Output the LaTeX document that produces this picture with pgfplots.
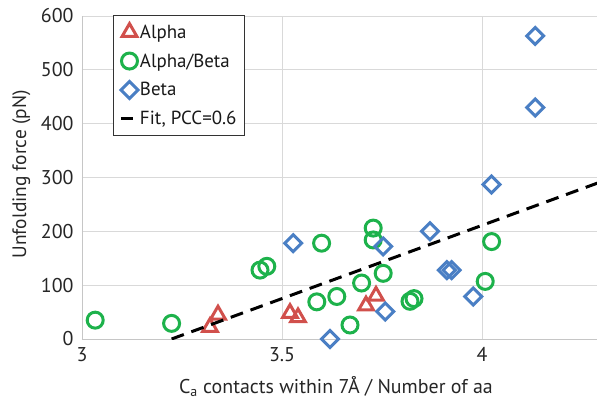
\documentclass[border=0pt]{standalone}
\usepackage{fontspec}
\setmainfont{PT Sans}
\usepackage{pgfplots}
\pgfplotsset{compat=1.18}
\definecolor{cA}{HTML}{D1504C}
\definecolor{cAB}{HTML}{1DB24B}
\definecolor{cB}{HTML}{4A7FC4}
\begin{document}
\begin{tikzpicture}
\begin{axis}[name=ax, scale only axis, width=515bp, height=323bp,
  xmin=3, xmax=4.2875, ymin=0, ymax=600,
  xtick={3,3.5,4}, xticklabels={3,3.5,4},
  ytick={0,100,200,300,400,500,600},
  axis lines*=left,
  grid=major, grid style={gray!30, line width=0.8bp},
  axis line style={gray!45, line width=0.8bp},
  major tick length=0pt,
  tick label style={font=\fontsize{20}{23}\selectfont, text=black!85},
  xticklabel style={yshift=-5bp},
  yticklabel style={xshift=-5bp},
  /pgf/number format/assume math mode=true,
  clip mode=individual,
  xlabel={C\textsubscript{a} contacts within 7Å / Number of aa},
  ylabel={Unfolding force (pN)},
  xlabel style={at={(axis description cs:0.493,-0.148)}, anchor=center, font=\fontsize{20}{23}\selectfont, text=black!85},
  ylabel style={at={(axis description cs:-0.118,0.51)}, anchor=center, font=\fontsize{19.5}{22}\selectfont, text=black!85},
  legend style={at={(0.06,1.003)}, anchor=north west, draw=black!80, line width=1.2bp,
    font=\fontsize{19}{22}\selectfont, row sep=10bp, inner xsep=6bp, inner ysep=7bp, text=black!90},
  legend cell align=left,
]
\addplot[only marks, mark=triangle, mark size=8.5bp, line width=3bp, cA] coordinates {
(3.32,22) (3.34,45) (3.52,48) (3.54,40) (3.71,62) (3.735,80)};
\addlegendentry{Alpha}
\addplot[only marks, mark=o, mark size=8bp, line width=3bp, cAB] coordinates {
(3.033,35) (3.224,29) (3.445,128) (3.462,135) (3.599,178) (3.728,206) (3.728,184)
(3.753,122) (3.699,104) (3.587,69) (3.637,79) (3.67,26) (3.82,70) (3.83,75)
(4.008,107) (4.024,181)};
\addlegendentry{Alpha/Beta}
\addplot[only marks, mark=square, mark size=6bp, line width=3bp, cB, mark options={rotate=45}] coordinates {
(4.133,563) (4.133,430) (4.024,287) (3.528,178) (3.753,172) (3.87,200)
(3.912,128) (3.924,128) (3.978,79) (3.758,51) (3.62,0)};
\addlegendentry{Beta}
\addplot[black, line width=3bp, dash pattern=on 13bp off 8bp,
  legend image code/.code={\draw[black, line width=3bp, solid] (0bp,0bp) -- (12bp,0bp);}] coordinates {
(3.224,0) (4.3,292.7)};
\addlegendentry{Fit, PCC=0.6}
\end{axis}
\pgfresetboundingbox
\path[use as bounding box] ([xshift=-82bp,yshift=-62bp]ax.south west) rectangle ([yshift=16bp]ax.north east);
\end{tikzpicture}
\end{document}
